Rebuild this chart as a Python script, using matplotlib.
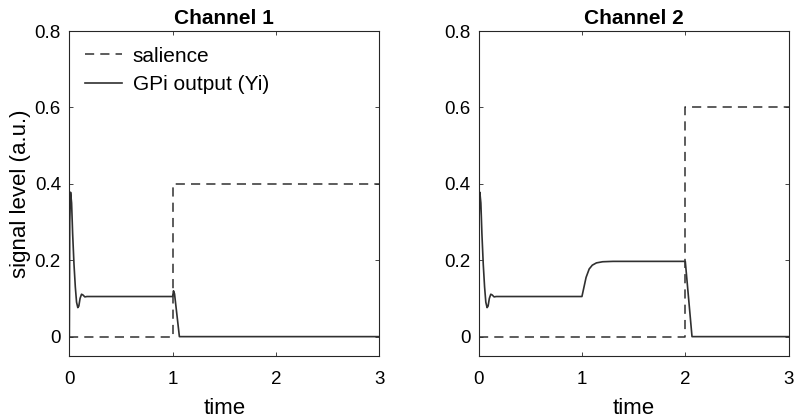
import numpy as np
import matplotlib.pyplot as plt

plt.rcParams['font.family'] = ['Liberation Sans', 'DejaVu Sans']

# salience step inputs
sal_t1 = [0, 1, 1, 3]
sal_y1 = [0, 0, 0.4, 0.4]
sal_t2 = [0, 2, 2, 3]
sal_y2 = [0, 0, 0.6, 0.6]

# GPi output
gpi_t1 = [0, 0.004, 0.012, 0.022, 0.032, 0.045, 0.058, 0.07, 0.082, 0.092, 0.104,
          0.118, 0.132, 0.15, 0.17, 0.2, 1.0, 1.008, 1.018, 1.065, 3.0]
gpi_y1 = [0, 0.30, 0.378, 0.35, 0.27, 0.19, 0.13, 0.09, 0.076, 0.08, 0.10,
          0.111, 0.109, 0.104, 0.105, 0.105, 0.105, 0.12, 0.112, 0.0, 0.0]

gpi_t2 = [0, 0.004, 0.012, 0.022, 0.032, 0.045, 0.058, 0.07, 0.082, 0.092, 0.104,
          0.118, 0.132, 0.15, 0.17, 0.2, 1.0, 1.02, 1.04, 1.07, 1.1, 1.14, 1.2,
          1.3, 2.0, 2.065, 3.0]
gpi_y2 = [0, 0.30, 0.378, 0.35, 0.27, 0.19, 0.13, 0.09, 0.076, 0.08, 0.10,
          0.111, 0.109, 0.104, 0.105, 0.105, 0.105, 0.13, 0.155, 0.177, 0.187,
          0.193, 0.196, 0.197, 0.197, 0.0, 0.0]

col = '#303030'
fig = plt.figure(figsize=(7.95, 4.19), dpi=100)
ax1 = fig.add_axes([0.0872, 0.151, 0.390, 0.775])
ax2 = fig.add_axes([0.602, 0.151, 0.390, 0.775])

for ax, st, sy, gt, gy, title in [(ax1, sal_t1, sal_y1, gpi_t1, gpi_y1, 'Channel 1'),
                                  (ax2, sal_t2, sal_y2, gpi_t2, gpi_y2, 'Channel 2')]:
    ax.plot(st, sy, c=col, ls=(0, (6, 4)), lw=1.1, label='salience')
    ax.plot(gt, gy, c=col, lw=1.2, label='GPi output (Yi)')
    ax.set_xlim(0, 3)
    ax.set_ylim(-0.05, 0.8)
    ax.set_xticks([0, 1, 2, 3])
    ax.set_yticks([0, 0.2, 0.4, 0.6, 0.8])
    ax.set_yticklabels(['0', '0.2', '0.4', '0.6', '0.8'])
    ax.tick_params(direction='in', top=True, right=True, labelsize=13.5, length=3,
                   width=0.6, color='#262626')
    ax.tick_params(axis='x', pad=11)
    ax.tick_params(axis='y', pad=6)
    for s in ax.spines.values():
        s.set_linewidth(0.8)
        s.set_color('#262626')
    ax.set_title(title, fontsize=15, fontweight='bold', pad=5)
    ax.set_xlabel('time', fontsize=16, labelpad=7)

ax1.set_ylabel('signal level (a.u.)', fontsize=16, labelpad=3)
ax1.legend(loc='upper left', frameon=False, fontsize=15, handlelength=1.8,
           borderaxespad=0.35, labelspacing=0.45, handletextpad=0.5)

plt.savefig('out.png', dpi=100)
